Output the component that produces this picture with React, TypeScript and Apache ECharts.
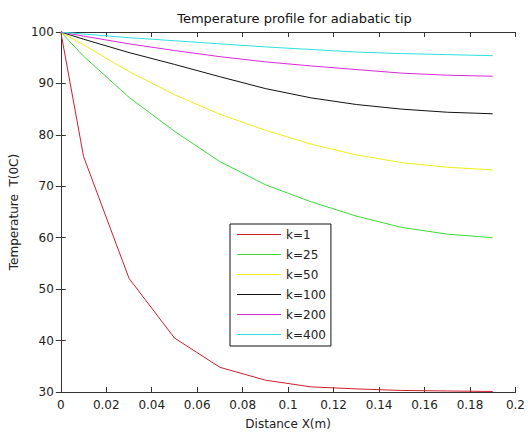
import React, { useEffect, useRef } from "react";
import * as echarts from "echarts";

const title = "Temperature profile for adiabatic tip";
const xName = "Distance X(m)";
const yName = "Temperature  T(0C)";

const distances = [0, 0.01, 0.03, 0.05, 0.07, 0.09, 0.11, 0.13, 0.15, 0.17, 0.19];

const seriesNames = ["k=1", "k=25", "k=50", "k=100", "k=200", "k=400"];
const k1 = [100, 75.8, 52.1, 40.5, 34.8, 32.3, 31.0, 30.6, 30.3, 30.2, 30.1];
const k25 = [100, 95.3, 87.3, 80.7, 74.8, 70.3, 67.0, 64.2, 62.0, 60.7, 60.0];
const k50 = [100, 97.5, 92.3, 87.8, 84.0, 80.9, 78.2, 76.1, 74.6, 73.7, 73.2];
const k100 = [100, 98.6, 96.0, 93.7, 91.3, 89.0, 87.2, 85.9, 85.0, 84.4, 84.1];
const k200 = [100, 99.2, 97.7, 96.4, 95.2, 94.2, 93.4, 92.7, 92.0, 91.6, 91.4];
const k400 = [100, 99.6, 98.9, 98.3, 97.7, 97.1, 96.6, 96.1, 95.8, 95.6, 95.4];
const seriesValues = [k1, k25, k50, k100, k200, k400];
const seriesColors = ["#d01e2e", "#3ada3a", "#eeee1a", "#111111", "#d829d8", "#2ee0e0"];

const xTicks = { min: 0, max: 0.2, interval: 0.02 };
const yTicks = { min: 30, max: 100, interval: 10 };

const FONT = "DejaVu Sans, Verdana, sans-serif";
const LINE_ICON = "path://M0,0L44,0L44,1L0,1Z";

export default function App() {
  const ref = useRef<HTMLDivElement>(null);
  useEffect(() => {
    if (!ref.current) return;
    const chart = echarts.init(ref.current, undefined, { renderer: "svg" });
    const axisLine = { show: true, lineStyle: { color: "#333", width: 1 } };
    const axisTick = { show: true, inside: true, length: 5, lineStyle: { color: "#333", width: 1 } };
    const labelStyle = { fontFamily: FONT, fontSize: 12, color: "#222" };
    const fmtX = (v: number) => String(parseFloat(v.toFixed(2)));
    chart.setOption({
      animation: false,
      backgroundColor: "#fff",
      title: {
        text: title,
        left: 289.5,
        textAlign: "center",
        top: 7,
        textStyle: { fontFamily: FONT, fontSize: 13, fontWeight: "normal", color: "#111" },
      },
      grid: { left: 60, right: 9, top: 32, bottom: 44, containLabel: false },
      legend: {
        orient: "vertical",
        left: 230,
        top: 224,
        padding: [4, 5, 5, 7],
        icon: LINE_ICON,
        itemWidth: 44,
        itemHeight: 1,
        itemGap: 7,
        borderColor: "#111",
        borderWidth: 1,
        backgroundColor: "#fff",
        textStyle: { fontFamily: FONT, fontSize: 12, lineHeight: 13, color: "#222" },
        data: seriesNames.map((n) => ({ name: n, icon: LINE_ICON })),
      },
      xAxis: [
        {
          type: "value",
          position: "bottom",
          min: xTicks.min,
          max: xTicks.max,
          interval: xTicks.interval,
          name: xName,
          nameLocation: "middle",
          nameGap: 26,
          nameTextStyle: { fontFamily: FONT, fontSize: 12, color: "#222" },
          axisLine,
          axisTick,
          splitLine: { show: false },
          axisLabel: { ...labelStyle, margin: 7, formatter: fmtX },
        },
        {
          type: "value",
          position: "top",
          min: xTicks.min,
          max: xTicks.max,
          interval: xTicks.interval,
          axisLine,
          axisTick,
          splitLine: { show: false },
          axisLabel: { show: false },
        },
      ],
      yAxis: [
        {
          type: "value",
          position: "left",
          min: yTicks.min,
          max: yTicks.max,
          interval: yTicks.interval,
          name: yName,
          nameLocation: "middle",
          nameGap: 36,
          nameTextStyle: { fontFamily: FONT, fontSize: 12, color: "#222" },
          axisLine,
          axisTick,
          splitLine: { show: false },
          axisLabel: { ...labelStyle, margin: 7 },
        },
        {
          type: "value",
          position: "right",
          min: yTicks.min,
          max: yTicks.max,
          interval: yTicks.interval,
          axisLine,
          axisTick,
          splitLine: { show: false },
          axisLabel: { show: false },
        },
      ],
      series: seriesNames.map((name, i) => ({
        name,
        type: "line",
        xAxisIndex: 0,
        yAxisIndex: 0,
        showSymbol: false,
        symbol: "none",
        color: seriesColors[i],
        lineStyle: { width: 1, color: seriesColors[i] },
        data: distances.map((d, j) => [d, seriesValues[i][j]]),
      })),
    });
    return () => chart.dispose();
  }, []);
  return (
    <div
      ref={ref}
      style={{ position: "fixed", left: 0, top: 0, width: 528, height: 436, background: "#fff" }}
    />
  );
}
